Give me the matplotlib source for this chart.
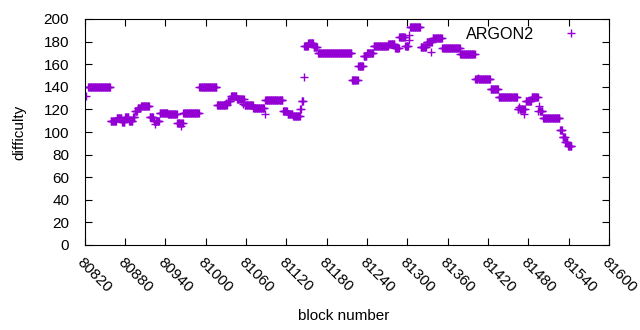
import numpy as np
import matplotlib
matplotlib.use("Agg")
import matplotlib.pyplot as plt

plt.rcParams['font.family'] = ['Liberation Sans', 'DejaVu Sans']

# Run-length description of difficulty per block: each run starts at run_start
# and lasts until the next run starts; last run ends at last_block.
run_start = [80822, 80825, 80859, 80868, 80876, 80880, 80886, 80892, 80895, 80899,
             80904, 80917, 80923, 80932, 80944, 80958, 80967, 80991, 81017, 81033,
             81038, 81047, 81058, 81071, 81089, 81115, 81122, 81130, 81141, 81143,
             81146, 81147, 81153, 81161, 81167, 81218, 81227, 81235, 81240, 81250,
             81272, 81282, 81288, 81297, 81304, 81320, 81329, 81338, 81352, 81379,
             81401, 81424, 81436, 81464, 81476, 81485, 81495, 81502, 81527, 81531,
             81535, 81539]
run_value = [132, 140, 110, 112, 109, 113, 110, 113, 119, 121,
             123, 113, 110, 117, 116, 108, 117, 140, 124, 127,
             132, 129, 124, 121, 128, 119, 116, 114, 120, 127,
             149, 176, 179, 175, 170, 146, 158, 167, 170, 176,
             178, 174, 184, 176, 193, 175, 180, 183, 174, 169,
             147, 138, 131, 120, 127, 131, 119, 112, 102, 96,
             91, 88]
last_block = 81544

# Individual blocks that deviate from their run
extra_block = [80925, 80963, 81030, 81055, 81088, 81302, 81303, 81335, 81466,
               81474, 81496, 81405]
extra_value = [107, 105, 126, 125, 116, 181, 186, 171, 122,
               116, 123, 148]

ends = run_start[1:] + [last_block + 1]
blocks = np.concatenate([np.arange(s, e) for s, e in zip(run_start, ends)])
diff = np.concatenate([np.full(e - s, v, dtype=float) for s, e, v in zip(run_start, ends, run_value)])
for b, v in zip(extra_block, extra_value):
    diff[blocks == b] = v
keep = ~((blocks > 80822) & (blocks < 80825))
blocks, diff = blocks[keep], diff[keep]

FS = 11

fig = plt.figure(figsize=(6.4, 3.3), dpi=100)
ax = fig.add_axes([84.5/640, 1-245/330, (609-84.5)/640, (245-19)/330])

ax.plot(blocks, diff, linestyle='none', marker='+', color='#9400D3',
        markersize=6, markeredgewidth=1.0, label='ARGON2')

ax.set_xlim(80820, 81600)
ax.set_ylim(0, 200)
ax.set_xticks(np.arange(80820, 81601, 60))
ax.set_yticks(np.arange(0, 201, 20))
ax.tick_params(direction='in', top=True, right=True, length=5, width=0.8,
               labelsize=FS, colors='black')
ax.tick_params(axis='y', pad=11)
ax.tick_params(axis='x', pad=7)
for lab in ax.get_xticklabels():
    lab.set_rotation(-45)
    lab.set_ha('left')
    lab.set_va('top')
    lab.set_rotation_mode('anchor')
for sp in ax.spines.values():
    sp.set_linewidth(0.8)

ax.set_xlabel('block number', fontsize=FS, va='center')
ax.xaxis.set_label_coords((344-84.5)/524.5, -(316-245)/226)
ax.set_ylabel('difficulty', fontsize=FS, va='center')
ax.yaxis.set_label_coords(-(84.5-19)/524.5, 0.5)

leg = ax.legend(loc='upper right', frameon=False, fontsize=11.6,
                markerfirst=False, handlelength=1.5, borderaxespad=0.1,
                handletextpad=1.5, bbox_to_anchor=(0.965, 1.0))

fig.savefig('out.png', dpi=100)
